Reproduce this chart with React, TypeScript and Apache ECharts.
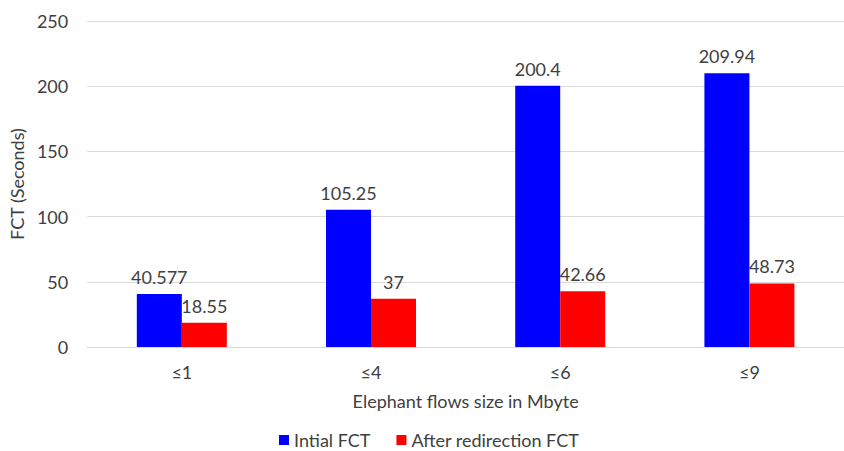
import React, { useEffect, useRef } from "react";
import * as echarts from "echarts";

const categories = ["≤1", "≤4", "≤6", "≤9"];
const initialFct = [40.577, 105.25, 200.4, 209.94];
const afterRedirectionFct = [18.55, 37, 42.66, 48.73];
const seriesNames = ["Intial FCT", "After redirection FCT"];

const FONT = "Lato, 'Open Sans', sans-serif";
const TEXT_COLOR = "#404040";
const FONT_SIZE = 18;

export default function App() {
  const ref = useRef<HTMLDivElement>(null);

  useEffect(() => {
    document.body.style.margin = "0";
    if (!ref.current) return;
    const chart = echarts.init(ref.current, null, { renderer: "svg" });
    const label = {
      show: true,
      position: "top" as const,
      distance: 8,
      color: TEXT_COLOR,
      fontSize: FONT_SIZE,
      fontFamily: FONT,
    };
    chart.setOption({
      animation: false,
      textStyle: { fontFamily: FONT },
      grid: { left: 84, right: 0, top: 21, bottom: 104 },
      legend: {
        left: 274,
        top: 426,
        itemWidth: 10,
        itemHeight: 10,
        itemGap: 26,
        icon: "rect",
        textStyle: { color: TEXT_COLOR, fontSize: FONT_SIZE, fontFamily: FONT },
        data: seriesNames,
      },
      xAxis: {
        type: "category",
        data: categories,
        name: "Elephant flows size in Mbyte",
        nameLocation: "middle",
        nameGap: 45,
        nameTextStyle: { color: TEXT_COLOR, fontSize: FONT_SIZE, fontFamily: FONT },
        axisLine: { lineStyle: { color: "#d9d9d9", width: 1 } },
        axisTick: { show: false },
        axisLabel: { color: TEXT_COLOR, fontSize: FONT_SIZE, margin: 16, fontFamily: FONT },
      },
      yAxis: {
        type: "value",
        min: 0,
        max: 250,
        interval: 50,
        name: "FCT (Seconds)",
        nameLocation: "middle",
        nameGap: 48,
        nameRotate: 90,
        nameTextStyle: { color: TEXT_COLOR, fontSize: FONT_SIZE, fontFamily: FONT },
        axisLine: { show: false },
        axisTick: { show: false },
        axisLabel: { color: TEXT_COLOR, fontSize: FONT_SIZE, margin: 19, fontFamily: FONT },
        splitLine: { lineStyle: { color: "#d9d9d9", width: 1 } },
      },
      series: [
        {
          name: seriesNames[0],
          type: "bar",
          data: initialFct,
          barWidth: 45,
          barGap: "0%",
          itemStyle: { color: "#0000ff" },
          label,
        },
        {
          name: seriesNames[1],
          type: "bar",
          data: afterRedirectionFct,
          barWidth: 45,
          barGap: "0%",
          itemStyle: { color: "#ff0000" },
          label,
        },
      ],
    });
    return () => chart.dispose();
  }, []);

  return <div ref={ref} style={{ width: 844, height: 451 }} />;
}
